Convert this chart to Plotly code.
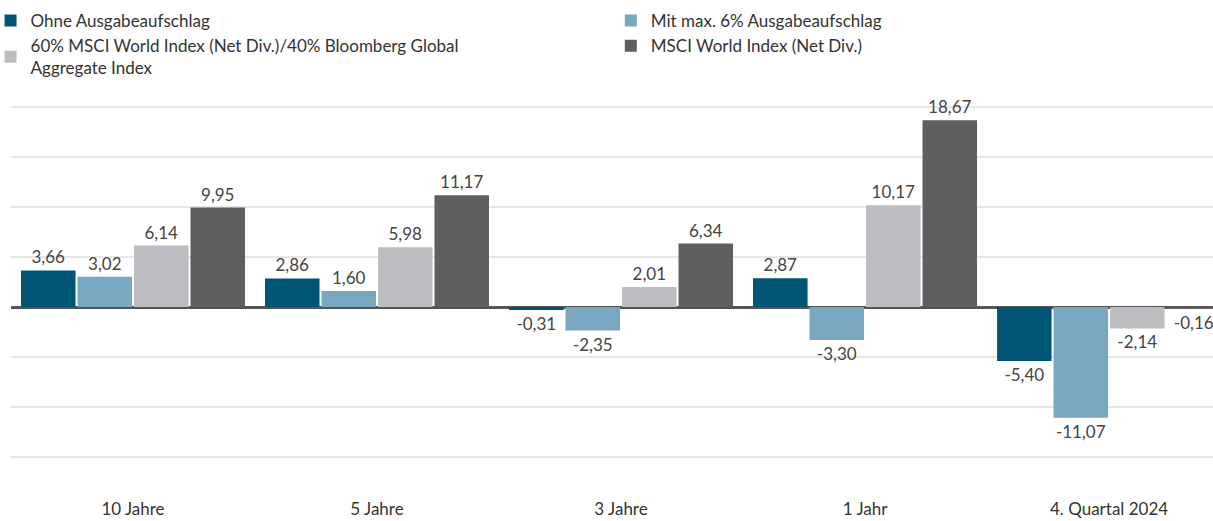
import plotly.graph_objects as go

categories = ["10 Jahre", "5 Jahre", "3 Jahre", "1 Jahr", "4. Quartal 2024"]
ohne = [3.66, 2.86, -0.31, 2.87, -5.40]
mit = [3.02, 1.60, -2.35, -3.30, -11.07]
mix = [6.14, 5.98, 2.01, 10.17, -2.14]
msci = [9.95, 11.17, 6.34, 18.67, -0.16]
grid_values = [-15, -10, -5, 5, 10, 15, 20]

series = [
    ("Ohne Ausgabeaufschlag", ohne, "#005575", "legend"),
    ("Mit max. 6% Ausgabeaufschlag", mit, "#79a7c1", "legend2"),
    ("60% MSCI World Index (Net Div.)/40% Bloomberg Global<br>Aggregate Index", mix, "#bcbdc0", "legend"),
    ("MSCI World Index (Net Div.)", msci, "#5f5f61", "legend2"),
]

FONT = "Lato"
fig = go.Figure()
for name, vals, color, lg in series:
    fig.add_trace(go.Bar(
        x=categories, y=vals, name=name, legend=lg,
        marker=dict(color=color, line=dict(width=0)),
        texttemplate="%{y:.2f}", textposition="outside",
        textfont=dict(family=FONT, size=17, color="#444444"),
        cliponaxis=False,
    ))

legend_common = dict(
    orientation="v", xref="paper", yref="paper",
    xanchor="left", yanchor="top", traceorder="normal", itemwidth=30,
    font=dict(family=FONT, size=17, color="#333333"),
    tracegroupgap=0, bgcolor="rgba(0,0,0,0)",
)

fig.update_layout(
    width=1213, height=521,
    margin=dict(l=11, r=0, t=104, b=61, autoexpand=False),
    paper_bgcolor="white", plot_bgcolor="white",
    separators=",.",
    barmode="group", bargap=0.074, bargroupgap=0.035,
    font=dict(family=FONT, size=17, color="#333333"),
    showlegend=True,
    legend=dict(x=-0.0170, y=1.2837, **legend_common),
    legend2=dict(x=0.4990, y=1.2837, **legend_common),
    xaxis=dict(
        range=[-0.5, 4.426], showgrid=False, showline=False, ticks="",
        ticklabelstandoff=37, tickfont=dict(family=FONT, size=17, color="#333333"),
    ),
    yaxis=dict(
        range=[-15.3, 20.3], tickmode="array", tickvals=grid_values + [0],
        showticklabels=False, showgrid=True,
        gridcolor="#e6e6e6", gridwidth=2, zeroline=True,
        zerolinecolor="#555555", zerolinewidth=3, showline=False, ticks="",
    ),
)

fig.write_html("out.html")
